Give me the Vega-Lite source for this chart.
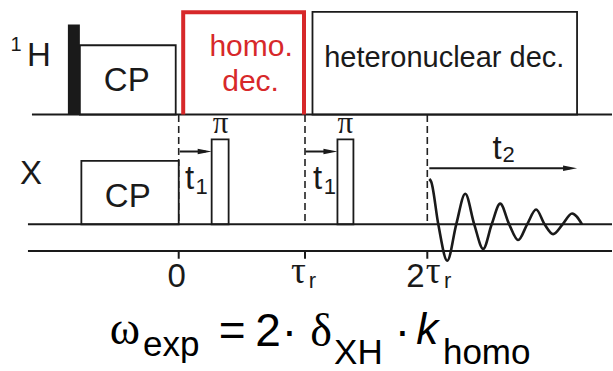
{
  "$schema": "https://vega.github.io/schema/vega-lite/v6.json",
  "width": 613,
  "height": 371,
  "autosize": {"type": "fit", "contains": "padding"},
  "padding": 0,
  "background": "white",
  "config": {"view": {"stroke": null}},
  "datasets": {
    "lines": [
      {"x": -147, "x2": 434, "y": 254.5, "y2": 254.5},
      {"x": -151, "x2": 434, "y": 143, "y2": 143},
      {"x": -151, "x2": 434, "y": 116, "y2": 116},
      {"x": 0, "x2": 0, "y": 116, "y2": 108},
      {"x": 126.5, "x2": 126.5, "y": 116, "y2": 108},
      {"x": 249, "x2": 249, "y": 116, "y2": 108},
      {"x": 1, "x2": 27, "y": 217, "y2": 217},
      {"x": 127, "x2": 152, "y": 217, "y2": 217},
      {"x": 251, "x2": 392, "y": 200, "y2": 200}
    ],
    "dashes": [
      {"x": 0, "y": 254, "y2": 143},
      {"x": 126.5, "y": 254, "y2": 143},
      {"x": 249, "y": 254, "y2": 143}
    ],
    "boxes": [
      {"x": -99, "x2": -3, "y": 254.5, "y2": 325},
      {"x": 134, "x2": 399, "y": 254.5, "y2": 359},
      {"x": -97.5, "x2": 0, "y": 143, "y2": 207.5},
      {"x": 33, "x2": 50, "y": 143, "y2": 229.3},
      {"x": 159, "x2": 175, "y": 143, "y2": 229.3}
    ],
    "bar": [{"x": -111, "x2": -99, "y": 254.5, "y2": 346}],
    "redbox": [
      {"i": 1, "x": 4.5, "y": 254.5},
      {"i": 2, "x": 4.5, "y": 358.5},
      {"i": 3, "x": 125.5, "y": 358.5},
      {"i": 4, "x": 125.5, "y": 254.5}
    ],
    "heads": [{"x": 26, "y": 217}, {"x": 152, "y": 217}, {"x": 392, "y": 200}],
    "fid": [
      {"x": 251, "y": 189}, {"x": 253, "y": 186}, {"x": 260, "y": 143}, {"x": 269, "y": 106},
      {"x": 278, "y": 143}, {"x": 287, "y": 174}, {"x": 296, "y": 143},
      {"x": 305, "y": 118}, {"x": 313.5, "y": 143}, {"x": 322, "y": 164},
      {"x": 331, "y": 143}, {"x": 340, "y": 127}, {"x": 349, "y": 143},
      {"x": 358, "y": 158}, {"x": 366.5, "y": 143}, {"x": 375, "y": 133},
      {"x": 384.5, "y": 143}, {"x": 394, "y": 154}, {"x": 404, "y": 143}
    ],
    "texts": [
      {"kind": "label", "t": "H", "x": -140, "y": 304},
      {"kind": "label", "t": "X", "x": -148, "y": 184},
      {"kind": "label", "t": "CP", "x": -52, "y": 279},
      {"kind": "label", "t": "CP", "x": -51, "y": 161},
      {"kind": "label", "t": "0", "x": -2, "y": 79},
      {"kind": "label", "t": "2", "x": 237, "y": 79},
      {"kind": "label", "t": "t", "x": 11, "y": 179},
      {"kind": "label", "t": "t", "x": 139, "y": 179},
      {"kind": "label", "t": "t", "x": 319, "y": 209},
      {"kind": "block", "t": "heteronuclear dec.", "x": 266, "y": 303},
      {"kind": "red", "t": "homo.", "x": 72.5, "y": 314},
      {"kind": "red", "t": "dec.", "x": 72, "y": 278},
      {"kind": "sup", "t": "1", "x": -163, "y": 319},
      {"kind": "sub", "t": "1", "x": 23, "y": 174},
      {"kind": "sub", "t": "1", "x": 151.5, "y": 174},
      {"kind": "sub", "t": "2", "x": 330.5, "y": 206},
      {"kind": "sub", "t": "r", "x": 134, "y": 78},
      {"kind": "sub", "t": "r", "x": 269.5, "y": 78},
      {"kind": "greek", "t": "τ", "x": 120, "y": 83},
      {"kind": "greek", "t": "τ", "x": 255, "y": 83},
      {"kind": "pi", "t": "π", "x": 42, "y": 236},
      {"kind": "pi", "t": "π", "x": 167, "y": 236},
      {"kind": "eq", "t": "=", "x": 53.5, "y": 19},
      {"kind": "eq", "t": "2", "x": 89.5, "y": 19},
      {"kind": "eq", "t": "·", "x": 111, "y": 19},
      {"kind": "eq", "t": "·", "x": 224, "y": 19},
      {"kind": "eqgreek", "t": "ω", "x": -54, "y": 21},
      {"kind": "eqgreek", "t": "δ", "x": 142.5, "y": 19},
      {"kind": "eqitalic", "t": "k", "x": 249, "y": 21},
      {"kind": "eqsub", "t": "exp", "x": -7.5, "y": 9},
      {"kind": "eqsub", "t": "XH", "x": 180, "y": 1},
      {"kind": "eqsub", "t": "homo", "x": 308.5, "y": 1}
    ]
  },
  "encoding": {
    "x": {"field": "x", "type": "quantitative", "scale": {"domain": [-179, 434], "nice": false, "zero": false}, "axis": null},
    "y": {"field": "y", "type": "quantitative", "scale": {"domain": [0, 371], "nice": false, "zero": false}, "axis": null}
  },
  "layer": [
    {
      "data": {"name": "dashes"},
      "mark": {"type": "rule", "color": "#222", "strokeWidth": 1.6, "strokeDash": [7, 4]},
      "encoding": {"y2": {"field": "y2"}}
    },
    {
      "data": {"name": "boxes"},
      "mark": {"type": "rect", "fill": "white", "stroke": "#1a1a1a", "strokeWidth": 1.8},
      "encoding": {"x2": {"field": "x2"}, "y2": {"field": "y2"}}
    },
    {
      "data": {"name": "bar"},
      "mark": {"type": "rect", "fill": "#1a1a1a", "stroke": null},
      "encoding": {"x2": {"field": "x2"}, "y2": {"field": "y2"}}
    },
    {
      "data": {"name": "lines"},
      "mark": {"type": "rule", "color": "#1a1a1a", "strokeWidth": 2},
      "encoding": {"x2": {"field": "x2"}, "y2": {"field": "y2"}}
    },
    {
      "data": {"name": "redbox"},
      "mark": {"type": "line", "color": "#d7282a", "strokeWidth": 4, "strokeJoin": "miter"},
      "encoding": {"order": {"field": "i", "type": "quantitative"}}
    },
    {
      "data": {"name": "heads"},
      "mark": {"type": "point", "shape": "M-1,-0.4L1,0L-1,0.4Z", "size": 196, "filled": true, "color": "#1a1a1a", "opacity": 1}
    },
    {
      "data": {"name": "fid"},
      "mark": {"type": "line", "color": "#1a1a1a", "strokeWidth": 2.6, "interpolate": "monotone"}
    },
    {
      "data": {"name": "texts"},
      "transform": [{"filter": "datum.kind === 'label'"}],
      "mark": {"type": "text", "font": "Liberation Sans", "fontSize": 33, "align": "center", "baseline": "alphabetic", "color": "#1a1a1a"},
      "encoding": {"text": {"field": "t"}}
    },
    {
      "data": {"name": "texts"},
      "transform": [{"filter": "datum.kind === 'block'"}],
      "mark": {"type": "text", "font": "Liberation Sans", "fontSize": 29, "align": "center", "baseline": "alphabetic", "color": "#1a1a1a"},
      "encoding": {"text": {"field": "t"}}
    },
    {
      "data": {"name": "texts"},
      "transform": [{"filter": "datum.kind === 'red'"}],
      "mark": {"type": "text", "font": "Liberation Sans", "fontSize": 30, "align": "center", "baseline": "alphabetic", "color": "#d7282a"},
      "encoding": {"text": {"field": "t"}}
    },
    {
      "data": {"name": "texts"},
      "transform": [{"filter": "datum.kind === 'sup'"}],
      "mark": {"type": "text", "font": "Liberation Sans", "fontSize": 20, "align": "center", "baseline": "alphabetic", "color": "#1a1a1a"},
      "encoding": {"text": {"field": "t"}}
    },
    {
      "data": {"name": "texts"},
      "transform": [{"filter": "datum.kind === 'sub'"}],
      "mark": {"type": "text", "font": "Liberation Sans", "fontSize": 22, "align": "center", "baseline": "alphabetic", "color": "#1a1a1a"},
      "encoding": {"text": {"field": "t"}}
    },
    {
      "data": {"name": "texts"},
      "transform": [{"filter": "datum.kind === 'greek'"}],
      "mark": {"type": "text", "font": "Liberation Serif", "fontSize": 37, "align": "center", "baseline": "alphabetic", "color": "#1a1a1a"},
      "encoding": {"text": {"field": "t"}}
    },
    {
      "data": {"name": "texts"},
      "transform": [{"filter": "datum.kind === 'pi'"}],
      "mark": {"type": "text", "font": "Liberation Serif", "fontSize": 31, "align": "center", "baseline": "alphabetic", "color": "#1a1a1a"},
      "encoding": {"text": {"field": "t"}}
    },
    {
      "data": {"name": "texts"},
      "transform": [{"filter": "datum.kind === 'eq'"}],
      "mark": {"type": "text", "font": "Liberation Sans", "fontSize": 46, "align": "center", "baseline": "alphabetic", "color": "#000"},
      "encoding": {"text": {"field": "t"}}
    },
    {
      "data": {"name": "texts"},
      "transform": [{"filter": "datum.kind === 'eqgreek'"}],
      "mark": {"type": "text", "font": "Liberation Serif", "fontSize": 46, "align": "center", "baseline": "alphabetic", "color": "#000"},
      "encoding": {"text": {"field": "t"}}
    },
    {
      "data": {"name": "texts"},
      "transform": [{"filter": "datum.kind === 'eqitalic'"}],
      "mark": {"type": "text", "font": "Liberation Sans", "fontStyle": "italic", "fontSize": 44, "align": "center", "baseline": "alphabetic", "color": "#000"},
      "encoding": {"text": {"field": "t"}}
    },
    {
      "data": {"name": "texts"},
      "transform": [{"filter": "datum.kind === 'eqsub'"}],
      "mark": {"type": "text", "font": "Liberation Sans", "fontSize": 35, "align": "center", "baseline": "alphabetic", "color": "#000"},
      "encoding": {"text": {"field": "t"}}
    }
  ]
}
